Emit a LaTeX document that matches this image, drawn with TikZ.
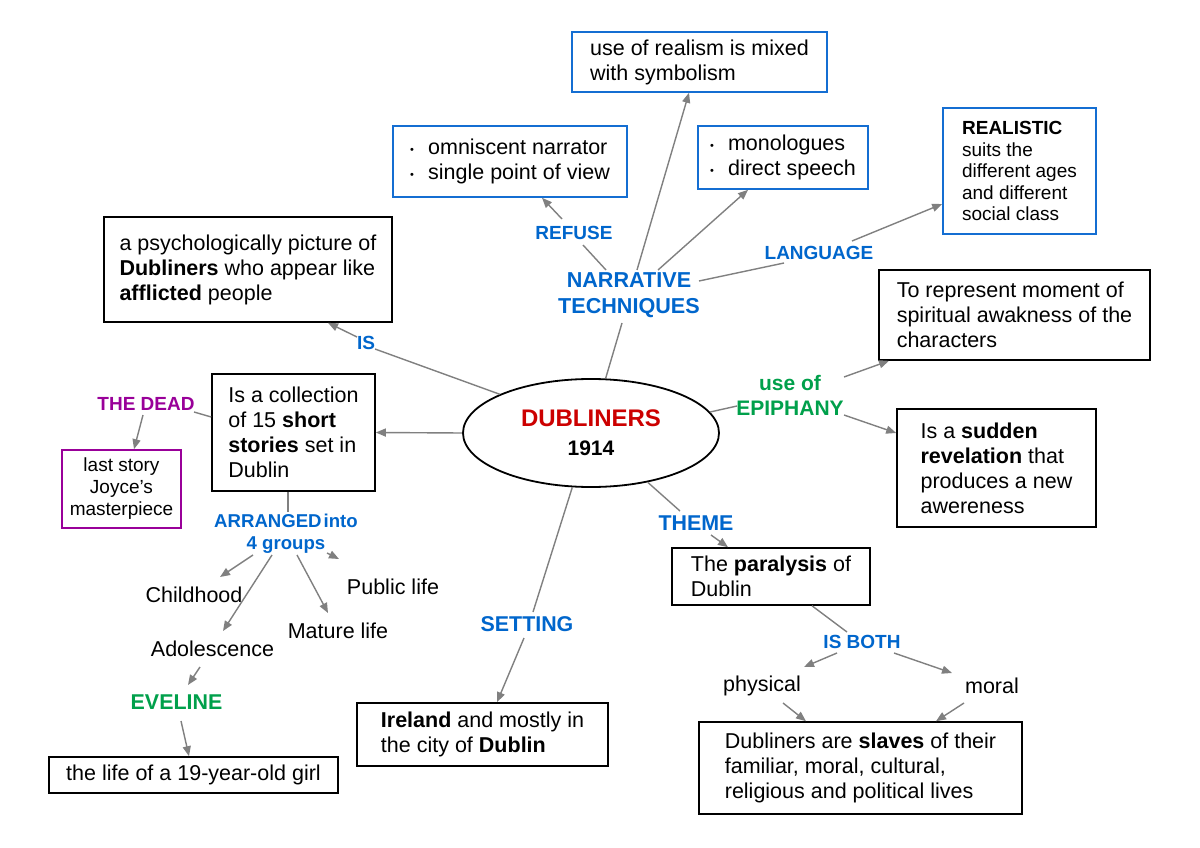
\documentclass[tikz,border=0pt]{standalone}
\usepackage{fontspec}
\setmainfont{Liberation Sans}
\usetikzlibrary{shapes.geometric,arrows.meta,calc}
\definecolor{lblue}{RGB}{0,102,204}
\definecolor{bblue}{RGB}{20,110,210}
\definecolor{lgreen}{RGB}{0,160,75}
\definecolor{dred}{RGB}{204,0,0}
\definecolor{purp}{RGB}{153,0,153}
\definecolor{lgray}{RGB}{128,128,128}
\newcommand\fN{\fontsize{21.5}{25}\selectfont}
\newcommand\fS{\fontsize{19}{21.5}\selectfont}
\newcommand\bul{\makebox[18pt][l]{\raisebox{1.5pt}{\fontsize{11}{11}\selectfont\textbullet}}}
\begin{document}
\begin{tikzpicture}[x=1pt,y=-1pt,
  box/.style={draw, line width=1.6pt, align=left, inner sep=0pt, font=\fN},
  bbox/.style={box, draw=bblue},
  lab/.style={text=lblue, inner sep=1pt, align=center},
  ln/.style={draw=lgray, line width=1.4pt},
  arr/.style={ln, -{Triangle[length=10pt,width=8pt]}}]
\fill[white] (0,0) rectangle (1200,848);
\useasboundingbox (0,0) rectangle (1200,848);

% central ellipse
\node[draw, ellipse, line width=1.8pt, minimum width=256pt, minimum height=108pt, inner sep=0pt, align=center,
  font=\fontsize{21}{29}\selectfont\bfseries] (ell) at (591,433)
  {{\color{dred}\fontsize{24}{29}\selectfont DUBLINERS}\\1914};

% boxes
\node[bbox, minimum width=255pt, minimum height=60pt] (realism) at (699.5,62) {use of realism is mixed\\with symbolism};
\node[bbox, minimum width=234pt, minimum height=71pt] (omni) at (510,161.5) {\bul omniscent narrator\\\bul single point of view};
\node[bbox, minimum width=170pt, minimum height=63pt] (mono) at (783,157.5) {\bul monologues\\\bul direct speech};
\node[bbox, font=\fS, minimum width=153pt, minimum height=126pt] (real) at (1019.5,171) {\textbf{REALISTIC}\\suits the\\different ages\\and different\\social class};
\node[box, minimum width=288pt, minimum height=105pt] (psych) at (248,269.5) {a psychologically picture of\\\textbf{Dubliners} who appear like\\\textbf{afflicted} people};
\node[box, minimum width=163pt, minimum height=117pt] (coll) at (293.5,432.5) {Is a collection\\of 15 \textbf{short}\\\textbf{stories} set in\\Dublin};
\node[box, draw=purp, font=\fontsize{19}{22}\selectfont, align=center, minimum width=119pt, minimum height=78pt] (last) at (121.5,489) {last story\\Joyce's\\masterpiece};
\node[box, minimum width=271pt, minimum height=90pt] (repr) at (1014.5,315) {To represent moment of\\spiritual awakness of the\\characters};
\node[box, minimum width=199pt, minimum height=118pt] (sudden) at (996.5,468) {Is a \textbf{sudden}\\\textbf{revelation} that\\produces a new\\awereness};
\node[box, minimum width=198pt, minimum height=57pt] (para) at (771,576.5) {The \textbf{paralysis} of\\Dublin};
\node[box, minimum width=251pt, minimum height=63pt] (ireland) at (482.5,734.5) {\textbf{Ireland} and mostly in\\the city of \textbf{Dublin}};
\node[box, minimum width=323pt, minimum height=92pt] (slaves) at (860.5,768) {Dubliners are \textbf{slaves} of their\\familiar, moral, cultural,\\religious and political lives};
\node[box, align=center, minimum width=289pt, minimum height=36pt] (girl) at (193.5,775) {the life of a 19-year-old girl};

% labels
\node[lab, font=\fontsize{21.6}{26}\selectfont\bfseries] (NT) at (629,295) {NARRATIVE\\TECHNIQUES};
\node[lab, font=\fontsize{19}{22}\selectfont\bfseries] (refuse) at (574,233) {REFUSE};
\node[lab, font=\fontsize{19}{22}\selectfont\bfseries] (lang) at (819,253) {LANGUAGE};
\node[lab, font=\fontsize{19}{22}\selectfont\bfseries] (is) at (366,343) {IS};
\node[lab, text=lgreen, font=\fontsize{21}{25}\selectfont\bfseries] (epi) at (790,395.5) {use of\\EPIPHANY};
\node[lab, font=\fontsize{21.4}{25}\selectfont\bfseries] (theme) at (696,523) {THEME};
\node[lab, font=\fontsize{21.4}{25}\selectfont\bfseries] (setting) at (527,624) {SETTING};
\node[lab, font=\fontsize{19}{22}\selectfont\bfseries] (isboth) at (862,642) {IS BOTH};
\node[lab, text=black, font=\fN] (phys) at (762,686) {physical};
\node[lab, text=black, font=\fN] (moral) at (992,686) {moral};
\node[lab, text=purp, font=\fontsize{19}{22}\selectfont\bfseries] (dead) at (146,404) {THE DEAD};
\node[lab, font=\fontsize{18.6}{21.5}\selectfont\bfseries] (grp) at (286,533.5) {ARRANGED\hspace{2pt}into\\4 groups};
\node[lab, text=black, font=\fN] (child) at (194,595) {Childhood};
\node[lab, text=black, font=\fN] (public) at (393,587) {Public life};
\node[lab, text=black, font=\fN] (mature) at (338,631) {Mature life};
\node[lab, text=black, font=\fN] (adol) at (212.5,649) {Adolescence};
\node[lab, text=lgreen, font=\fontsize{21.4}{25}\selectfont\bfseries] (eve) at (176.5,702) {EVELINE};

% connectors
\draw[ln] ($(NT)+(-7,28)$) -- (ell.75);
\draw[ln] ($(NT)+(-23,-25)$) -- ($(refuse)+(9,12)$);
\draw[arr] ($(refuse)+(-12,-14)$) -- ($(omni.south)+(32,0)$);
\draw[arr] ($(NT)+(8,-25)$) -- ($(realism.south)+(-10.5,0)$);
\draw[arr] ($(NT)+(29,-25)$) -- ($(mono.south)+(-35,0)$);
\draw[ln] ($(NT)+(70,-14)$) -- ($(lang)+(-35,10)$);
\draw[arr] ($(lang)+(33,-12)$) -- ($(real.west)+(0,33)$);
\draw[ln] (ell.157) -- ($(is)+(9,6)$);
\draw[arr] ($(is)+(-9,-6)$) -- ($(psych.south)+(80,0)$);
\draw[arr] (ell.west) -- (coll.east);
\draw[ln] ($(coll.west)+(0,-15.5)$) -- ($(dead)+(48,8)$);
\draw[arr] ($(dead)+(-3,11)$) -- ($(last.north)+(12.5,0)$);
\draw[ln] ($(coll.south)+(-5.5,0)$) -- ($(grp)+(2,-21.5)$);
\draw[arr] ($(grp)+(-33,21.5)$) -- ($(child)+(26,-18)$);
\draw[arr] ($(grp)+(-14,21.5)$) -- ($(adol)+(10.5,-18)$);
\draw[arr] ($(grp)+(11,21.5)$) -- ($(mature)+(-10,-18)$);
\draw[arr] ($(grp)+(41,19.5)$) -- ($(public)+(-54,-28)$);
\draw[arr] ($(adol)+(-12.5,18)$) -- ($(eve)+(11.5,-17)$);
\draw[arr] ($(eve)+(4.5,19)$) -- ($(girl.north)+(-4.5,0)$);
\draw[ln] (ell.251) -- ($(setting)+(6,-12)$);
\draw[arr] ($(setting)+(-3,14)$) -- ($(ireland.north)+(14.5,0)$);
\draw[ln] (ell.-41) -- ($(theme)+(-16,-12)$);
\draw[arr] ($(theme)+(15,12)$) -- ($(para.north)+(-43,0)$);
\draw[ln] (ell.10) -- ($(epi)+(-53,10.5)$);
\draw[arr] ($(epi)+(54,-18.5)$) -- ($(repr.south)+(-125.5,0)$);
\draw[arr] ($(epi)+(54,19.5)$) -- ($(sudden.west)+(0,-35)$);
\draw[ln] ($(para.south)+(41,0)$) -- ($(isboth)+(-15,-10)$);
\draw[arr] ($(isboth)+(-25,11)$) -- ($(phys)+(42,-19)$);
\draw[arr] ($(isboth)+(32,11)$) -- ($(moral)+(-40,-13)$);
\draw[arr] ($(phys)+(21,17)$) -- ($(slaves.north)+(-54.5,0)$);
\draw[arr] ($(moral)+(-28,17)$) -- ($(slaves.north)+(75.5,0)$);
\end{tikzpicture}
\end{document}
